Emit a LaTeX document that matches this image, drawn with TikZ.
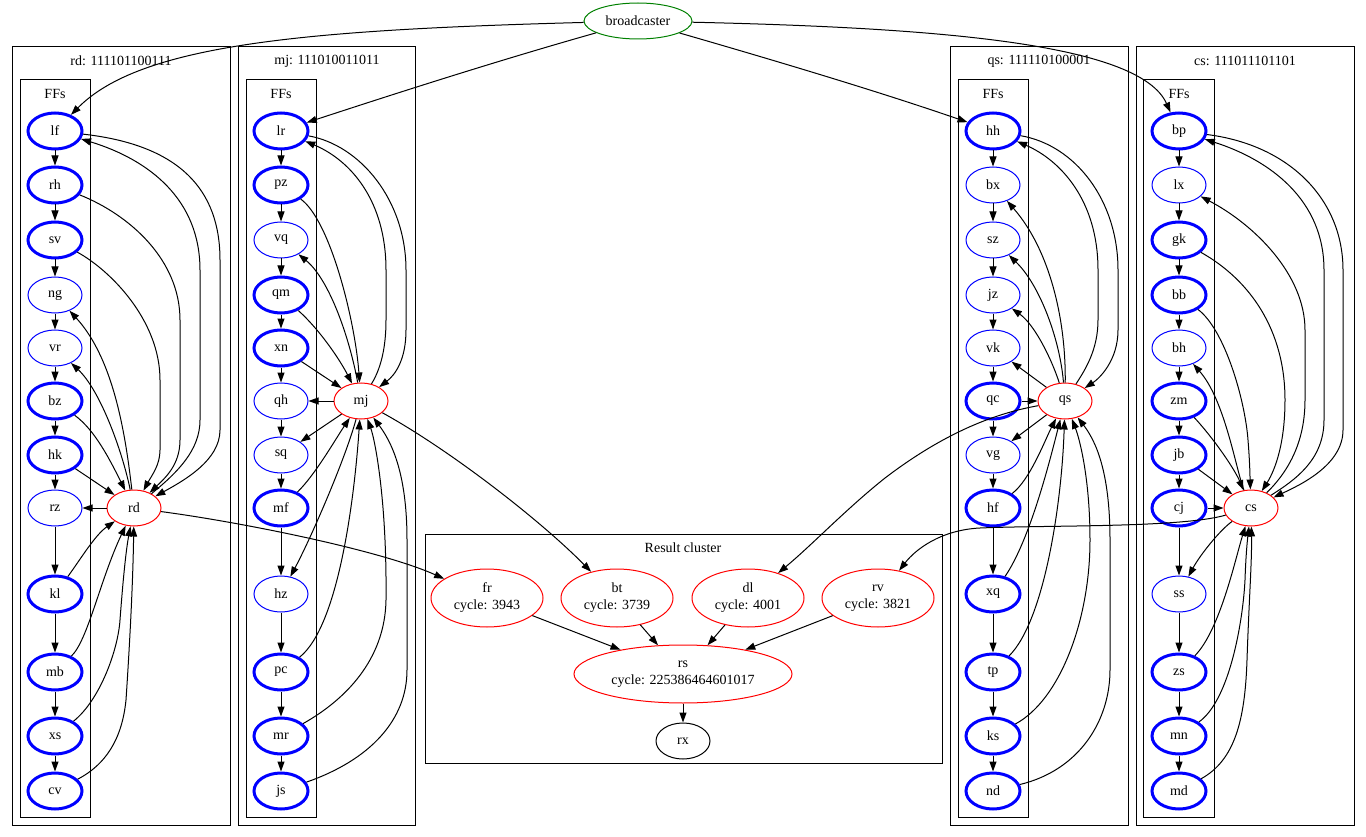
\documentclass[tikz,border=0pt]{standalone}
\usepackage{fontspec}
\setmainfont{Liberation Serif}
\usetikzlibrary{shapes.geometric,arrows.meta}
\definecolor{gvgreen}{RGB}{0,128,0}
\begin{document}
\begin{tikzpicture}[x=1pt,y=-1pt,
  every node/.style={font=\fontsize{14}{17}\selectfont},
  ffthin/.style={ellipse,draw=blue,line width=1pt,minimum width=54pt,minimum height=36pt,inner sep=0pt},
  ffbold/.style={ffthin,line width=3pt},
  hub/.style={ellipse,draw=red,line width=1pt,minimum width=54pt,minimum height=36pt,inner sep=0pt},
  resnode/.style={ellipse,draw=red,line width=1pt,minimum width=112pt,minimum height=58pt,inner sep=0pt,align=center},
  clus/.style={draw=black,line width=1pt},
  lbl/.style={inner sep=0pt},
  edg/.style={draw,line width=1pt,-{Triangle[length=10pt,width=7pt]}},
]
\useasboundingbox (0,0) rectangle (1366,837);

% clusters
\draw[clus] (12,47) rectangle (230,825);
\draw[clus] (20,80) rectangle (90,817);
\draw[clus] (238,47) rectangle (415,825);
\draw[clus] (246,80) rectangle (316,817);
\draw[clus] (950,47) rectangle (1128,825);
\draw[clus] (958,80) rectangle (1028,817);
\draw[clus] (1136,47) rectangle (1354,825);
\draw[clus] (1143,80) rectangle (1214,817);
\draw[clus] (425,534) rectangle (942,763);

\node[lbl] (lrd) at (121,61) {rd: 111101100111};
\node[lbl] (frd) at (55,94) {FFs};
\node[lbl] (lmj) at (327,61) {mj: 111010011011};
\node[lbl] (fmj) at (281,94) {FFs};
\node[lbl] (lqs) at (1039,61) {qs: 111110100001};
\node[lbl] (fqs) at (993,94) {FFs};
\node[lbl] (lcs) at (1245,61) {cs: 111011101101};
\node[lbl] (fcs) at (1179,94) {FFs};
\node[lbl] (lres) at (683,548) {Result cluster};

% broadcaster
\node[ellipse,draw=gvgreen,line width=1pt,minimum width=108pt,minimum height=36pt,inner sep=0pt] (bc) at (638,21) {broadcaster};

% rd column
\node[ffbold] (lf) at (55,131) {lf};
\node[ffbold] (rh) at (55,185) {rh};
\node[ffbold] (sv) at (55,240) {sv};
\node[ffthin] (ng) at (55,295) {ng};
\node[ffthin] (vr) at (55,348) {vr};
\node[ffbold] (bz) at (55,401) {bz};
\node[ffbold] (hk) at (55,455) {hk};
\node[ffthin] (rz) at (55,508) {rz};
\node[ffbold] (kl) at (55,594) {kl};
\node[ffbold] (mb) at (55,672) {mb};
\node[ffbold] (xs) at (55,736) {xs};
\node[ffbold] (cv) at (55,791) {cv};
\node[hub] (rd) at (134,508) {rd};

% mj column
\node[ffbold] (lr) at (281,131) {lr};
\node[ffbold] (pz) at (281,185) {pz};
\node[ffthin] (vq) at (281,240) {vq};
\node[ffbold] (qm) at (281,295) {qm};
\node[ffbold] (xn) at (281,348) {xn};
\node[ffthin] (qh) at (281,401) {qh};
\node[ffthin] (sq) at (281,455) {sq};
\node[ffbold] (mf) at (281,508) {mf};
\node[ffthin] (hz) at (281,594) {hz};
\node[ffbold] (pc) at (281,672) {pc};
\node[ffbold] (mr) at (281,736) {mr};
\node[ffbold] (js) at (281,791) {js};
\node[hub] (mj) at (361,401) {mj};

% qs column
\node[ffbold] (hh) at (993,131) {hh};
\node[ffthin] (bx) at (993,185) {bx};
\node[ffthin] (sz) at (993,240) {sz};
\node[ffthin] (jz) at (993,295) {jz};
\node[ffthin] (vk) at (993,348) {vk};
\node[ffbold] (qc) at (993,401) {qc};
\node[ffthin] (vg) at (993,455) {vg};
\node[ffbold] (hf) at (993,508) {hf};
\node[ffbold] (xq) at (993,594) {xq};
\node[ffbold] (tp) at (993,672) {tp};
\node[ffbold] (ks) at (993,736) {ks};
\node[ffbold] (nd) at (993,791) {nd};
\node[hub] (qs) at (1065,401) {qs};

% cs column
\node[ffbold] (bp) at (1179,131) {bp};
\node[ffthin] (lx) at (1179,185) {lx};
\node[ffbold] (gk) at (1179,240) {gk};
\node[ffbold] (bb) at (1179,295) {bb};
\node[ffthin] (bh) at (1179,348) {bh};
\node[ffbold] (zm) at (1179,401) {zm};
\node[ffbold] (jb) at (1179,455) {jb};
\node[ffbold] (cj) at (1179,508) {cj};
\node[ffthin] (ss) at (1179,594) {ss};
\node[ffbold] (zs) at (1179,672) {zs};
\node[ffbold] (mn) at (1179,736) {mn};
\node[ffbold] (md) at (1179,791) {md};
\node[hub] (cs) at (1251,508) {cs};

% result cluster
\node[resnode] (fr) at (487,598) {fr\\cycle: 3943};
\node[resnode] (bt) at (617,598) {bt\\cycle: 3739};
\node[resnode] (dl) at (748,598) {dl\\cycle: 4001};
\node[resnode] (rv) at (878,598) {rv\\cycle: 3821};
\node[resnode,minimum width=218pt] (rs) at (683,674) {rs\\cycle: 225386464601017};
\node[ellipse,draw=black,line width=1pt,minimum width=54pt,minimum height=36pt,inner sep=0pt] (rx) at (683,741) {rx};

% broadcaster edges
\draw[edg] (bc) .. controls (300,30) and (140,45) .. (lf);
\draw[edg] (bc) .. controls (500,60) and (400,92) .. (lr);
\draw[edg] (bc) .. controls (780,62) and (880,92) .. (hh);
\draw[edg] (bc) .. controls (950,28) and (1140,45) .. (bp);

% chains
\foreach \a/\b in {lf/rh,rh/sv,sv/ng,ng/vr,vr/bz,bz/hk,hk/rz,rz/kl,kl/mb,mb/xs,xs/cv,
  lr/pz,pz/vq,vq/qm,qm/xn,xn/qh,qh/sq,sq/mf,mf/hz,hz/pc,pc/mr,mr/js,
  hh/bx,bx/sz,sz/jz,jz/vk,vk/qc,qc/vg,vg/hf,hf/xq,xq/tp,tp/ks,ks/nd,
  bp/lx,lx/gk,gk/bb,bb/bh,bh/zm,zm/jb,jb/cj,cj/ss,ss/zs,zs/mn,mn/md}
  \draw[edg] (\a) -- (\b);

% rd column edges
\draw[edg] (lf) .. controls (180,145) and (220,190) .. (220,260) -- (220,430) .. controls (220,460) and (185,480) .. (rd);
\draw[edg] (rd) .. controls (178,472) and (200,450) .. (200,420) -- (200,270) .. controls (200,200) and (150,160) .. (lf);
\draw[edg] (rh) .. controls (130,215) and (180,260) .. (180,320) -- (180,440) .. controls (180,465) and (165,478) .. (rd);
\draw[edg] (sv) .. controls (110,270) and (160,320) .. (160,380) -- (160,450) .. controls (160,465) and (152,475) .. (rd);
\draw[edg] (rd) .. controls (126,440) and (115,360) .. (ng);
\draw[edg] (rd) .. controls (122,450) and (100,390) .. (vr);
\draw[edg] (bz) .. controls (95,430) and (110,460) .. (rd);
\draw[edg] (hk) -- (rd);
\draw[edg] (rd) -- (rz);
\draw[edg] (kl) .. controls (80,560) and (95,535) .. (rd);
\draw[edg] (mb) .. controls (88,640) and (100,580) .. (rd);
\draw[edg] (xs) .. controls (100,700) and (118,650) .. (120,620) .. controls (123,580) and (126,550) .. (rd);
\draw[edg] (cv) .. controls (105,765) and (122,740) .. (126,700) .. controls (130,640) and (133,580) .. (rd);
\draw[edg] (rd) .. controls (240,522) and (380,550) .. (fr);

% mj column edges
\draw[edg] (lr) .. controls (360,145) and (406,200) .. (406,270) -- (406,330) .. controls (406,360) and (395,375) .. (mj);
\draw[edg] (mj) .. controls (380,370) and (386,350) .. (386,320) -- (386,270) .. controls (386,200) and (350,160) .. (lr);
\draw[edg] (pz) .. controls (330,220) and (355,320) .. (mj);
\draw[edg] (mj) .. controls (350,340) and (330,280) .. (vq);
\draw[edg] (qm) .. controls (320,330) and (340,360) .. (mj);
\draw[edg] (xn) -- (mj);
\draw[edg] (mj) -- (qh);
\draw[edg] (mj) -- (sq);
\draw[edg] (mf) .. controls (315,475) and (335,440) .. (mj);
\draw[edg] (mj) .. controls (345,460) and (310,540) .. (hz);
\draw[edg] (pc) .. controls (340,625) and (355,490) .. (mj);
\draw[edg] (mr) .. controls (345,700) and (385,660) .. (386,600) .. controls (387,500) and (375,440) .. (mj);
\draw[edg] (js) .. controls (370,760) and (407,720) .. (407,670) -- (407,540) .. controls (407,470) and (390,440) .. (mj);
\draw[edg] (mj) .. controls (450,450) and (540,520) .. (bt);

% qs column edges
\draw[edg] (hh) .. controls (1075,145) and (1118,200) .. (1118,270) -- (1118,330) .. controls (1118,360) and (1100,378) .. (qs);
\draw[edg] (qs) .. controls (1085,370) and (1098,350) .. (1098,320) -- (1098,270) .. controls (1098,200) and (1060,160) .. (hh);
\draw[edg] (qs) .. controls (1066,320) and (1050,250) .. (bx);
\draw[edg] (qs) .. controls (1060,340) and (1040,285) .. (sz);
\draw[edg] (qs) .. controls (1052,360) and (1035,325) .. (jz);
\draw[edg] (qs) -- (vk);
\draw[edg] (qc) -- (qs);
\draw[edg] (qs) -- (vg);
\draw[edg] (hf) .. controls (1030,480) and (1045,440) .. (qs);
\draw[edg] (xq) .. controls (1030,540) and (1050,460) .. (qs);
\draw[edg] (tp) .. controls (1045,620) and (1062,500) .. (qs);
\draw[edg] (ks) .. controls (1060,700) and (1090,620) .. (1090,540) .. controls (1090,480) and (1080,440) .. (qs);
\draw[edg] (nd) .. controls (1080,770) and (1110,720) .. (1110,670) -- (1110,540) .. controls (1110,470) and (1095,440) .. (qs);
\draw[edg] (qs) .. controls (985,415) and (935,440) .. (885,478) .. controls (845,510) and (812,545) .. (dl);

% cs column edges
\draw[edg] (bp) .. controls (1290,145) and (1343,200) .. (1343,270) -- (1343,430) .. controls (1343,465) and (1300,485) .. (cs);
\draw[edg] (cs) .. controls (1295,480) and (1324,460) .. (1324,420) -- (1324,270) .. controls (1324,200) and (1270,160) .. (bp);
\draw[edg] (cs) .. controls (1290,470) and (1305,440) .. (1305,400) -- (1305,330) .. controls (1305,275) and (1255,225) .. (lx);
\draw[edg] (gk) .. controls (1250,280) and (1285,330) .. (1285,400) .. controls (1285,450) and (1272,475) .. (cs);
\draw[edg] (bb) .. controls (1225,330) and (1245,400) .. (1248,440) .. controls (1250,465) and (1250,478) .. (cs);
\draw[edg] (cs) .. controls (1236,470) and (1225,400) .. (bh);
\draw[edg] (zm) .. controls (1215,440) and (1235,470) .. (cs);
\draw[edg] (jb) -- (cs);
\draw[edg] (cj) -- (cs);
\draw[edg] (cs) .. controls (1220,530) and (1200,555) .. (ss);
\draw[edg] (zs) .. controls (1220,630) and (1235,560) .. (cs);
\draw[edg] (mn) .. controls (1230,700) and (1243,620) .. (1245,580) .. controls (1246,550) and (1248,535) .. (cs);
\draw[edg] (md) .. controls (1235,760) and (1245,720) .. (1247,660) .. controls (1249,600) and (1252,560) .. (cs);
\draw[edg] (cs) .. controls (1180,528) and (1050,525) .. (980,528) .. controls (940,530) and (915,550) .. (rv);

% result edges
\draw[edg] (fr) -- (rs);
\draw[edg] (bt) -- (rs);
\draw[edg] (dl) -- (rs);
\draw[edg] (rv) -- (rs);
\draw[edg] (rs) -- (rx);
\end{tikzpicture}
\end{document}
